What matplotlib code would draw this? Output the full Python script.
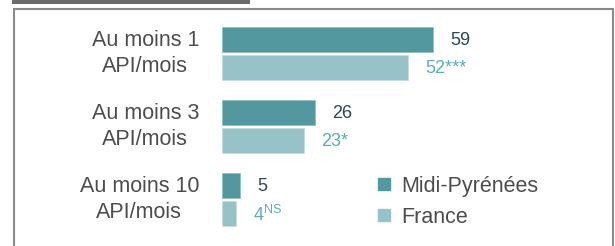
import matplotlib.pyplot as plt
from matplotlib.lines import Line2D
from matplotlib.patches import Rectangle

plt.rcParams["font.family"] = ["Liberation Sans", "DejaVu Sans"]
plt.rcParams["mathtext.fontset"] = "custom"
plt.rcParams["mathtext.rm"] = "Liberation Sans"

categories = ["Au moins 1\nAPI/mois", "Au moins 3\nAPI/mois", "Au moins 10\nAPI/mois"]
midi_pyrenees = [59, 26, 5]
france = [52, 23, 4]
france_marks = ["***", "*", "NS"]
series_names = ["Midi-Pyrénées", "France"]

MIDI_COLOR = "#53989f"
FRANCE_COLOR = "#97c3c8"
MIDI_TEXT = "#2d4654"
FRANCE_TEXT = "#5aaeb7"
LABEL_COLOR = "#4d4d4d"

W, H = 615, 246
fig = plt.figure(figsize=(W / 100, H / 100), dpi=100)

# px per unit ~3.576, bars start at x=222
px_per_unit = 211 / 59
ax_w = 380
ax = fig.add_axes([222 / W, 0, ax_w / W, 1])
ax.set_xlim(0, ax_w / px_per_unit)
group_px = 73.0
ax.set_ylim((H - 39.5) / group_px, -39.5 / group_px)
ax.axis("off")

bar_h = 25 / group_px
pair_off = 28 / group_px

for i, (cat, m, f, mark) in enumerate(zip(categories, midi_pyrenees, france, france_marks)):
    ax.barh(i, m, height=bar_h, color=MIDI_COLOR, edgecolor="#8fbfc4", linewidth=0.6)
    ax.barh(i + pair_off, f, height=bar_h, color=FRANCE_COLOR, edgecolor="#c4dde0", linewidth=0.6)
    ax.annotate(cat, xy=(0, i + pair_off / 2), xytext=(-23, 0), textcoords="offset pixels",
                ha="right", va="center", multialignment="center", fontsize=15.5,
                color=LABEL_COLOR, linespacing=1.3)
    ax.annotate(str(m), xy=(m, i), xytext=(17, -1), textcoords="offset pixels",
                ha="left", va="center", fontsize=13, color=MIDI_TEXT)
    if mark == "NS":
        ftxt = f"{f}" + r"$^{\mathrm{NS}}$"
    else:
        ftxt = f"{f}{mark}"
    ax.annotate(ftxt, xy=(f, i + pair_off), xytext=(17, -1), textcoords="offset pixels",
                ha="left", va="center", fontsize=13, color=FRANCE_TEXT)

handles = [
    Line2D([], [], marker="s", linestyle="none", markersize=9, color=MIDI_COLOR),
    Line2D([], [], marker="s", linestyle="none", markersize=9, color=FRANCE_COLOR),
]
fig.legend(handles, series_names, loc="upper left", bbox_to_anchor=(373 / W, 1 - 176 / H),
           frameon=False, fontsize=15.5, handletextpad=0.3, handlelength=1.0,
           labelspacing=0.45, labelcolor=LABEL_COLOR, borderaxespad=0, borderpad=0)

# frame and header strip
fig.patches.append(Rectangle((14, -10), 599, H - 9 + 10, transform=None, fill=False,
                             edgecolor="#8a8a8a", linewidth=1.5))
fig.patches.append(Rectangle((12, H - 4), 238, 6, transform=None,
                             facecolor="#6b6b6b", edgecolor="none"))

fig.savefig("out.png", dpi=100)
